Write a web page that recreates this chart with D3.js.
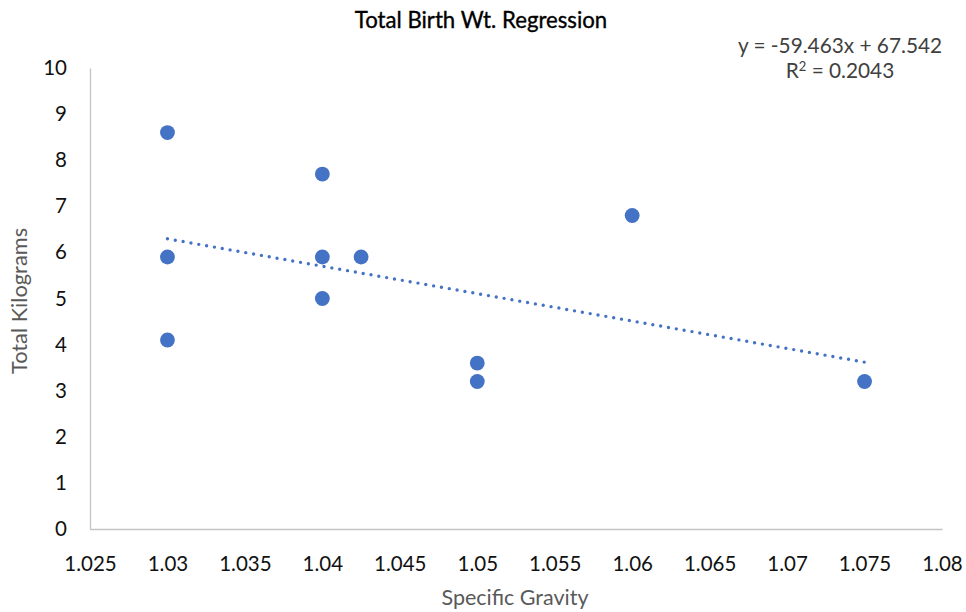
<!DOCTYPE html>
<html>
<head>
<meta charset="utf-8">
<script src="https://cdn.jsdelivr.net/npm/d3@7/dist/d3.min.js"></script>
<style>
  html, body { margin: 0; padding: 0; background: #fff; }
  svg { display: block; font-family: Lato, "Open Sans", sans-serif; }
</style>
</head>
<body>
<svg id="chart" width="966" height="612"></svg>
<script>
// Specific gravity vs. total birth weight (kg)
const specificGravity = [1.03, 1.03, 1.03, 1.04, 1.04, 1.04, 1.0425, 1.05, 1.05, 1.06, 1.075];
const totalKilograms  = [8.6, 5.9, 4.1, 7.7, 5.9, 5.0, 5.9, 3.6, 3.2, 6.8, 3.2];

// Linear trendline as reported
const trendSlope = -59.463;
const trendIntercept = 67.542;
const trendR2 = 0.2043;
const trendRange = [1.03, 1.075];

const xTickValues = [1.025, 1.03, 1.035, 1.04, 1.045, 1.05, 1.055, 1.06, 1.065, 1.07, 1.075, 1.08];
const xTickLabels = ["1.025", "1.03", "1.035", "1.04", "1.045", "1.05", "1.055", "1.06", "1.065", "1.07", "1.075", "1.08"];
const yTickValues = [0, 1, 2, 3, 4, 5, 6, 7, 8, 9, 10];

const chartTitle = "Total Birth Wt. Regression";
const xTitle = "Specific Gravity";
const yTitle = "Total Kilograms";

const svg = d3.select("#chart");

const x = d3.scaleLinear().domain([1.025, 1.08]).range([90, 942]);
const y = d3.scaleLinear().domain([0, 10]).range([529, 68]);

const markColor = "#4472C4";
const axisColor = "#c4c4c4";

// Axes
const xAxis = d3.axisBottom(x)
  .tickValues(xTickValues)
  .tickFormat((d, i) => xTickLabels[i])
  .tickSize(0)
  .tickPadding(27);
const gx = svg.append("g").attr("transform", `translate(0,${y(0)})`).call(xAxis);
gx.select(".domain").attr("stroke", axisColor).attr("stroke-width", 1.3);
gx.selectAll(".tick text")
  .attr("font-family", "Lato, 'Open Sans', sans-serif")
  .attr("font-size", 20.5)
  .attr("fill", "#111");

const yAxis = d3.axisLeft(y)
  .tickValues(yTickValues)
  .tickFormat(d3.format("d"))
  .tickSize(0)
  .tickPadding(23);
const gy = svg.append("g").attr("transform", `translate(${x(1.025)},0)`).call(yAxis);
gy.select(".domain").attr("stroke", axisColor).attr("stroke-width", 1.3);
gy.selectAll(".tick text")
  .attr("font-family", "Lato, 'Open Sans', sans-serif")
  .attr("font-size", 20.5)
  .attr("fill", "#111");

// Trendline (dotted)
svg.append("line")
  .attr("x1", x(trendRange[0]))
  .attr("y1", y(trendSlope * trendRange[0] + trendIntercept))
  .attr("x2", x(trendRange[1]))
  .attr("y2", y(trendSlope * trendRange[1] + trendIntercept))
  .attr("stroke", markColor)
  .attr("stroke-width", 3.4)
  .attr("stroke-linecap", "round")
  .attr("stroke-dasharray", "0,7.95");

// Points
const points = specificGravity.map((sg, i) => ({ sg, kg: totalKilograms[i] }));
svg.append("g").selectAll("circle")
  .data(points)
  .join("circle")
  .attr("cx", d => x(d.sg))
  .attr("cy", d => y(d.kg))
  .attr("r", 7.4)
  .attr("fill", markColor);

// Titles
svg.append("text")
  .attr("x", 481).attr("y", 28)
  .attr("text-anchor", "middle")
  .attr("font-size", 22.2)
  .attr("fill", "#000")
  .attr("stroke", "#000")
  .attr("stroke-width", 0.35)
  .text(chartTitle);

svg.append("text")
  .attr("x", 515).attr("y", 605)
  .attr("text-anchor", "middle")
  .attr("font-size", 21.5)
  .attr("fill", "#595959")
  .text(xTitle);

svg.append("text")
  .attr("transform", "translate(27,301) rotate(-90)")
  .attr("text-anchor", "middle")
  .attr("font-size", 21.8)
  .attr("fill", "#595959")
  .text(yTitle);

// Trendline equation
const eq = svg.append("text")
  .attr("text-anchor", "middle")
  .attr("font-size", 20.8)
  .attr("fill", "#404040");
eq.append("tspan").attr("x", 840).attr("y", 53)
  .text(`y = ${trendSlope}x + ${trendIntercept}`);
const r2 = eq.append("tspan").attr("x", 840).attr("y", 78);
r2.append("tspan").text("R");
r2.append("tspan").attr("font-size", 13).attr("dy", -7).text("2");
r2.append("tspan").attr("dy", 7).text(` = ${trendR2}`);
</script>
</body>
</html>
